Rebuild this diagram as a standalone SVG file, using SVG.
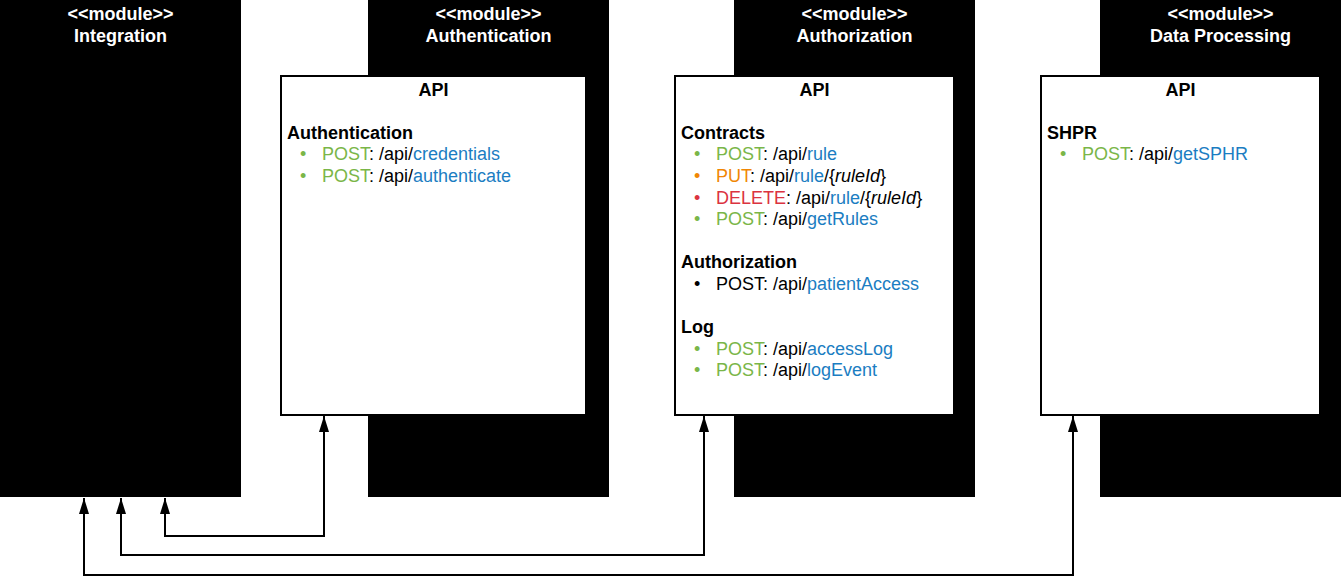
<svg xmlns="http://www.w3.org/2000/svg" width="1341" height="577" viewBox="0 0 1341 577">
<style>
.mod{fill:#000000;}
.api{fill:#ffffff;stroke:#000000;stroke-width:2;}
text{font-family:"Liberation Sans",Arial,sans-serif;font-size:18px;fill:#000000;}
.title{fill:#ffffff;font-weight:bold;text-anchor:middle;}
.h{font-weight:bold;}
.c{text-anchor:middle;font-weight:bold;}
.g{fill:#7AB648;}
.o{fill:#F08705;}
.r{fill:#DB3340;}
.b{fill:#1B7DC2;}
.i{font-style:italic;}
.conn{fill:none;stroke:#000000;stroke-width:2;}
</style>
<defs>
<marker id="arr" markerUnits="userSpaceOnUse" markerWidth="18" markerHeight="12" refX="17" refY="5.5" orient="auto-start-reverse">
<path d="M1,0.5 L17,5.5 L1,10.5 Z" fill="#000000"/>
</marker>
</defs>

<g id="integration">
<rect class="mod" x="0" y="0" width="241" height="497"/>
<text class="title" x="120.5" y="20">&lt;&lt;module&gt;&gt;</text>
<text class="title" x="120.5" y="41.6">Integration</text>
</g>

<g id="authentication">
<rect class="mod" x="368" y="0" width="241" height="497"/>
<text class="title" x="488.5" y="20">&lt;&lt;module&gt;&gt;</text>
<text class="title" x="488.5" y="41.6">Authentication</text>
<rect class="api" x="281" y="76" width="305" height="339"/>
<text class="c" x="433.5" y="96">API</text>
<text class="h" x="287" y="138.7">Authentication</text>
<text x="300" y="160.3"><tspan class="g">•</tspan></text>
<text x="322" y="160.3"><tspan class="g">POST</tspan>: /api/<tspan class="b">credentials</tspan></text>
<text x="300" y="181.9"><tspan class="g">•</tspan></text>
<text x="322" y="181.9"><tspan class="g">POST</tspan>: /api/<tspan class="b">authenticate</tspan></text>
</g>

<g id="authorization">
<rect class="mod" x="734" y="0" width="241" height="497"/>
<text class="title" x="854.5" y="20">&lt;&lt;module&gt;&gt;</text>
<text class="title" x="854.5" y="41.6">Authorization</text>
<rect class="api" x="675" y="76" width="279" height="339"/>
<text class="c" x="814.5" y="96">API</text>
<text class="h" x="681" y="138.7">Contracts</text>
<text x="694" y="160.3" class="g">•</text>
<text x="716" y="160.3"><tspan class="g">POST</tspan>: /api/<tspan class="b">rule</tspan></text>
<text x="694" y="181.9" class="o">•</text>
<text x="716" y="181.9"><tspan class="o">PUT</tspan>: /api/<tspan class="b">rule</tspan>/{<tspan class="i">ruleId</tspan>}</text>
<text x="694" y="203.5" class="r">•</text>
<text x="716" y="203.5"><tspan class="r">DELETE</tspan>: /api/<tspan class="b">rule</tspan>/{<tspan class="i">ruleId</tspan>}</text>
<text x="694" y="225.1" class="g">•</text>
<text x="716" y="225.1"><tspan class="g">POST</tspan>: /api/<tspan class="b">getRules</tspan></text>
<text class="h" x="681" y="268.3">Authorization</text>
<text x="694" y="289.9">•</text>
<text x="716" y="289.9">POST: /api/<tspan class="b">patientAccess</tspan></text>
<text class="h" x="681" y="333.1">Log</text>
<text x="694" y="354.7" class="g">•</text>
<text x="716" y="354.7"><tspan class="g">POST</tspan>: /api/<tspan class="b">accessLog</tspan></text>
<text x="694" y="376.3" class="g">•</text>
<text x="716" y="376.3"><tspan class="g">POST</tspan>: /api/<tspan class="b">logEvent</tspan></text>
</g>

<g id="dataprocessing">
<rect class="mod" x="1100" y="0" width="241" height="497"/>
<text class="title" x="1220.5" y="20">&lt;&lt;module&gt;&gt;</text>
<text class="title" x="1220.5" y="41.6">Data Processing</text>
<rect class="api" x="1041" y="76" width="279" height="339"/>
<text class="c" x="1180.5" y="96">API</text>
<text class="h" x="1047" y="138.7">SHPR</text>
<text x="1060" y="160.3" class="g">•</text>
<text x="1082" y="160.3"><tspan class="g">POST</tspan>: /api/<tspan class="b">getSPHR</tspan></text>
</g>

<g id="connectors">
<path class="conn" d="M324,416 V536 H165 V498" marker-start="url(#arr)" marker-end="url(#arr)"/>
<path class="conn" d="M704,416 V555 H121 V498" marker-start="url(#arr)" marker-end="url(#arr)"/>
<path class="conn" d="M1073,416 V575 H84 V498" marker-start="url(#arr)" marker-end="url(#arr)"/>
</g>
</svg>
